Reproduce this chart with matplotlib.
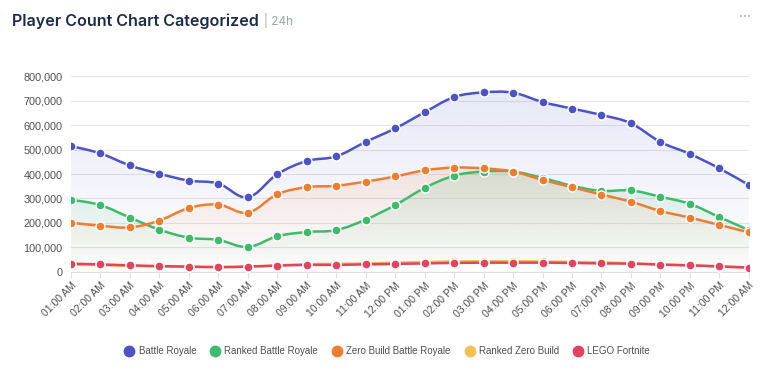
import numpy as np
import matplotlib
matplotlib.use("Agg")
import matplotlib.pyplot as plt
from matplotlib.path import Path
from matplotlib.patches import PathPatch
from matplotlib.ticker import FuncFormatter

# data
hours = ["01:00 AM", "02:00 AM", "03:00 AM", "04:00 AM", "05:00 AM", "06:00 AM",
         "07:00 AM", "08:00 AM", "09:00 AM", "10:00 AM", "11:00 AM", "12:00 PM",
         "01:00 PM", "02:00 PM", "03:00 PM", "04:00 PM", "05:00 PM", "06:00 PM",
         "07:00 PM", "08:00 PM", "09:00 PM", "10:00 PM", "11:00 PM", "12:00 AM"]

battle_royale = [514000, 484000, 435000, 401000, 373000, 361000, 305000, 399000,
                 453000, 472000, 531000, 586000, 652000, 714000, 733000, 732000,
                 694000, 667000, 641000, 607000, 531000, 482000, 423000, 355000]
ranked_br = [295000, 273000, 222000, 173000, 140000, 131000, 102000, 146000,
             163000, 171000, 214000, 273000, 343000, 393000, 410000, 410000,
             384000, 352000, 331000, 333000, 307000, 278000, 224000, 171000]
zero_build = [201000, 189000, 182000, 210000, 261000, 275000, 242000, 317000,
              346000, 352000, 369000, 390000, 415000, 426000, 423000, 410000,
              376000, 346000, 316000, 287000, 249000, 222000, 192000, 162000]
ranked_zb = [30000, 28000, 25000, 23000, 21000, 20000, 22000, 27000,
             31000, 33000, 35000, 38000, 41000, 43000, 44000, 44000,
             43000, 41000, 39000, 36000, 31000, 27000, 22000, 17000]
lego = [34000, 31000, 27000, 24000, 22000, 20000, 22000, 26000,
        29000, 29000, 31000, 33000, 35000, 37000, 38000, 38000,
        38000, 37000, 35000, 34000, 30000, 27000, 23000, 18000]

names = ["Battle Royale", "Ranked Battle Royale", "Zero Build Battle Royale",
         "Ranked Zero Build", "LEGO Fortnite"]
series = [battle_royale, ranked_br, zero_build, ranked_zb, lego]
colors = ["#4b53c6", "#3dbb6b", "#ef7d30", "#f2c14e", "#e2435f"]
fill_alpha = [0.13, 0.16, 0.13, 0.0, 0.0]


def smooth_path(x, y, t=0.18):
    # cubic bezier through every point (catmull-rom style handles)
    verts = [(x[0], y[0])]
    codes = [Path.MOVETO]
    n = len(x)
    for i in range(n - 1):
        p0 = i - 1 if i > 0 else i
        p3 = i + 2 if i + 2 < n else i + 1
        c1 = (x[i] + (x[i + 1] - x[p0]) * t, y[i] + (y[i + 1] - y[p0]) * t)
        c2 = (x[i + 1] - (x[p3] - x[i]) * t, y[i + 1] - (y[p3] - y[i]) * t)
        verts += [c1, c2, (x[i + 1], y[i + 1])]
        codes += [Path.CURVE4] * 3
    return verts, codes


fig = plt.figure(figsize=(7.68, 3.75), dpi=100)
ax = fig.add_axes([0.0924, 0.2747, 0.8826, 0.5226])

x = np.arange(len(hours))
ymax = 800000

for vals, col, fa in zip(series, colors, fill_alpha):
    verts, codes = smooth_path(x, vals)
    if fa > 0:
        # gradient area under the curve
        area = Path(verts + [(x[-1], 0), (x[0], 0), (x[0], vals[0])],
                    codes + [Path.LINETO, Path.LINETO, Path.CLOSEPOLY])
        patch = PathPatch(area, facecolor="none", edgecolor="none")
        ax.add_patch(patch)
        rgb = matplotlib.colors.to_rgb(col)
        grad = np.zeros((100, 2, 4))
        grad[..., :3] = rgb
        top = max(vals)
        grad[..., 3] = np.linspace(0.0, fa, 100)[:, None]
        im = ax.imshow(grad, extent=[x[0], x[-1], 0, top], origin="lower",
                       aspect="auto", zorder=1, interpolation="bilinear")
        im.set_clip_path(patch)
    line = PathPatch(Path(verts, codes), facecolor="none", edgecolor=col,
                     linewidth=1.8, zorder=3, capstyle="round")
    ax.add_patch(line)
    ax.plot(x, vals, linestyle="none", marker="o", markersize=6.5,
            markerfacecolor=col, markeredgecolor="white", markeredgewidth=1.0,
            zorder=4)

ax.set_xlim(x[0], x[-1])
ax.set_ylim(0, ymax)
ax.set_yticks(np.arange(0, ymax + 1, 100000))
ax.yaxis.set_major_formatter(FuncFormatter(lambda v, p: f"{int(v):,}"))
ax.set_xticks(x)
ax.set_xticklabels(hours, rotation=45, ha="right", rotation_mode="anchor")
ax.tick_params(axis="y", length=0, pad=6, labelsize=7.8, labelcolor="#505050")
ax.tick_params(axis="x", length=4, color="#e0e0e0", pad=2, labelsize=7.6,
               labelcolor="#505050")
ax.grid(axis="y", color="#e6e6e6", linewidth=0.8, zorder=0)
ax.set_axisbelow(True)
for s in ["top", "right", "left"]:
    ax.spines[s].set_visible(False)
ax.spines["bottom"].set_color("#e0e0e0")
for lab in ax.get_xticklabels() + ax.get_yticklabels():
    lab.set_fontfamily("Liberation Sans")

# legend
handles = [plt.Line2D([], [], linestyle="none", marker="o", markersize=7.5,
                      markerfacecolor=c, markeredgecolor=c) for c in colors]
fig.legend(handles, names, loc="center", bbox_to_anchor=(0.503, 0.063), ncol=5,
           frameon=False, handletextpad=0.25, columnspacing=1.25,
           handlelength=1.4,
           prop={"family": "Liberation Sans", "size": 7.0}, labelcolor="#505050")

# title
title = fig.text(0.016, 0.944, "Player Count Chart Categorized", fontsize=11.6,
                 fontweight="semibold", color="#1e2a4a", family="Inter",
                 va="center")
fig.canvas.draw()
bb = title.get_window_extent()
fig.text(bb.x1 / fig.bbox.width + 0.006, 0.944, "| 24h", fontsize=8.5,
         color="#a0a4ad", family="Inter", va="center")
fig.text(0.978, 0.955, "\u2022\u2022\u2022", fontsize=5, color="#b0b4bb",
         ha="right", va="center")

fig.savefig("out.png", dpi=100)
